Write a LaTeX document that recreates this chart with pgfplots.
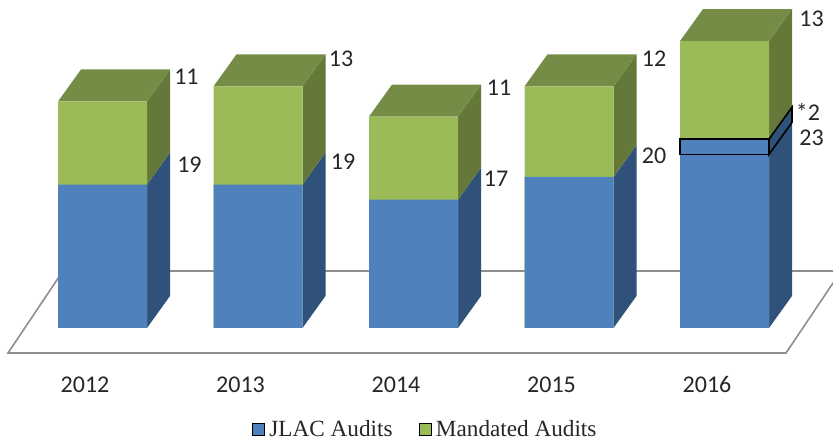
\documentclass[border=0pt]{standalone}
\usepackage{fontspec}
\setmainfont{Carlito}
\newfontfamily\legfont{Liberation Serif}
\usepackage{pgfplots}
\usepackage{pgfplotstable}
\pgfplotsset{compat=1.18}
\definecolor{bfront}{HTML}{4F81BD}
\definecolor{bside}{HTML}{30527A}
\definecolor{gfront}{HTML}{9BBB59}
\definecolor{gside}{HTML}{647839}
\definecolor{gtop}{HTML}{748C45}
\definecolor{floorc}{HTML}{8E8E8E}
\definecolor{txt}{HTML}{262626}
\pgfplotstableread{
year jlac star mandated
2012 19 0 11
2013 19 0 13
2014 17 0 11
2015 20 0 12
2016 23 2 13
}\audits
\newcommand{\lab}[3]{\node[text=txt,font=\fontsize{24}{26}\selectfont,inner sep=0pt] at (rel axis cs:{#1/833},{1-#2/445}) {#3};}
\newcommand{\face}[2]{\addplot[fill=#1,draw=none,forget plot] coordinates {#2} -- cycle;}
\begin{document}
\begin{tikzpicture}
\begin{axis}[
  scale only axis,
  width=833pt,height=445pt,
  xmin=2011.3408,xmax=2016.6977,
  ymin=-15.497,ymax=43.44,
  axis line style={draw=none},
  tick style={draw=none},
  ytick=\empty,
  xtick={2012,2013,2014,2015,2016},
  xticklabels={2012,2013,2014,2015,2016},
  xticklabel style={font=\fontsize{24}{26}\selectfont,text=txt,anchor=center,yshift=60.5pt,xshift=-17.5pt},
  clip=true,
  legend columns=2,
  legend style={draw=none,fill=none,at={(rel axis cs:0.5123,0.036)},anchor=center,
    font=\fontsize{23.2}{25}\selectfont\legfont,text=txt,
    nodes={inner xsep=5pt},
    /tikz/every even column/.append style={column sep=21pt}},
  legend image code/.code={\fill[#1] (0pt,-6pt) rectangle (12pt,6pt);},
]
% floor
\addplot[draw=floorc,line width=1.6pt,forget plot] coordinates
  {(2016.75,7.55) (2011.746,7.55) (2011.3923,-3.311) (2016.3955,-3.311) (2016.75,7.55)};
% 2012
\face{bside}{(2012.2862,0) (2012.4341,4.24) (2012.4341,23.24) (2012.2862,19)}
\face{gside}{(2012.2862,19) (2012.4341,23.24) (2012.4341,34.24) (2012.2862,30)}
\face{gtop}{(2011.7138,30) (2012.2862,30) (2012.4341,34.24) (2011.8617,34.24)}
% 2013
\face{bside}{(2013.2862,0) (2013.4341,4.24) (2013.4341,23.24) (2013.2862,19)}
\face{gside}{(2013.2862,19) (2013.4341,23.24) (2013.4341,36.24) (2013.2862,32)}
\face{gtop}{(2012.7138,32) (2013.2862,32) (2013.4341,36.24) (2012.8617,36.24)}
% 2014
\face{bside}{(2014.2862,0) (2014.4341,4.24) (2014.4341,21.24) (2014.2862,17)}
\face{gside}{(2014.2862,17) (2014.4341,21.24) (2014.4341,32.24) (2014.2862,28)}
\face{gtop}{(2013.7138,28) (2014.2862,28) (2014.4341,32.24) (2013.8617,32.24)}
% 2015
\face{bside}{(2015.2862,0) (2015.4341,4.24) (2015.4341,24.24) (2015.2862,20)}
\face{gside}{(2015.2862,20) (2015.4341,24.24) (2015.4341,36.24) (2015.2862,32)}
\face{gtop}{(2014.7138,32) (2015.2862,32) (2015.4341,36.24) (2014.8617,36.24)}
% 2016
\face{bside}{(2016.2862,0) (2016.4341,4.24) (2016.4341,27.24) (2016.2862,23)}
\face{gside}{(2016.2862,25) (2016.4341,29.24) (2016.4341,42.24) (2016.2862,38)}
\face{gtop}{(2015.7138,38) (2016.2862,38) (2016.4341,42.24) (2015.8617,42.24)}
% front faces, drawn back to front
\addplot[ybar,bar width=89pt,bar shift=0pt,fill=gfront,draw=none,forget plot]
  table[x=year,y expr=\thisrow{jlac}+\thisrow{star}+\thisrow{mandated}] {\audits};
\addplot[ybar,bar width=89pt,bar shift=0pt,fill=bfront,draw=none,forget plot]
  table[x=year,y=jlac] {\audits};
% the *2 band of 2016
\addplot[fill=bfront,draw=black,line width=1.6pt,forget plot] coordinates
  {(2015.7138,23) (2016.2862,23) (2016.2862,25) (2015.7138,25)} -- cycle;
\addplot[fill=bside,draw=black,line width=1.6pt,forget plot] coordinates
  {(2016.2862,23) (2016.4341,27.24) (2016.4341,29.24) (2016.2862,25)} -- cycle;
% legend
\addlegendimage{fill=bfront}
\addlegendentry{JLAC Audits}
\addlegendimage{fill=gfront}
\addlegendentry{Mandated Audits}
% data labels
\lab{186.5}{77}{11}
\lab{189.5}{165}{19}
\lab{341}{59}{13}
\lab{343}{162}{19}
\lab{499}{88}{11}
\lab{496}{179}{17}
\lab{654}{59}{12}
\lab{654}{156}{20}
\lab{811.5}{19}{13}
\lab{808}{112}{*2}
\lab{811.5}{137.5}{23}
\end{axis}
\end{tikzpicture}
\end{document}
